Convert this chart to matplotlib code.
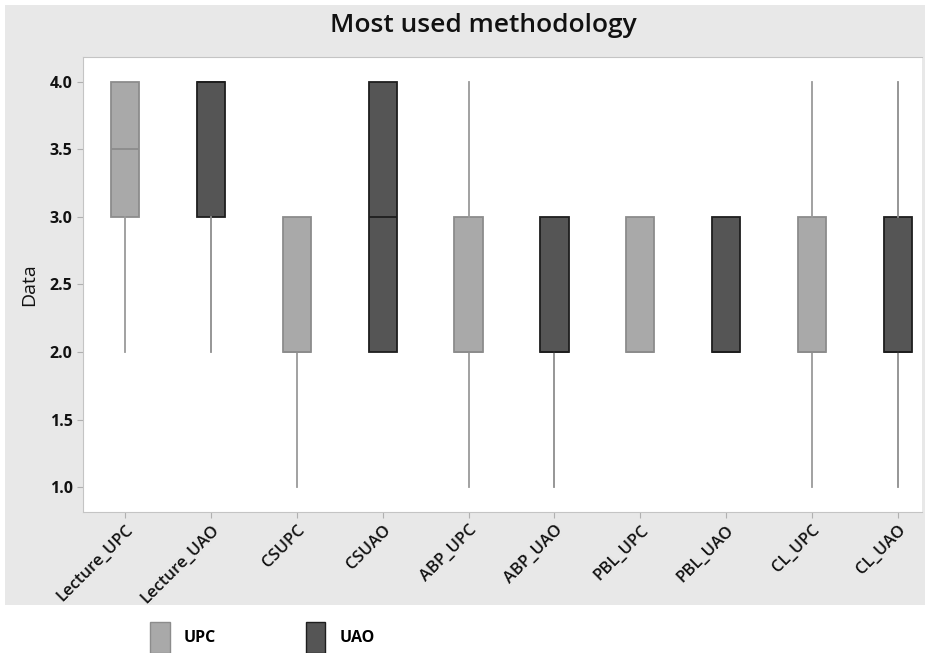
import matplotlib
matplotlib.use("Agg")
import matplotlib.pyplot as plt
from matplotlib.patches import Rectangle, Patch

plt.rcParams['font.family'] = ['Open Sans', 'DejaVu Sans']

# box statistics per methodology / university
labels = ['Lecture_UPC', 'Lecture_UAO', 'CSUPC', 'CSUAO', 'ABP_UPC',
          'ABP_UAO', 'PBL_UPC', 'PBL_UAO', 'CL_UPC', 'CL_UAO']
groups = ['UPC', 'UAO', 'UPC', 'UAO', 'UPC', 'UAO', 'UPC', 'UAO', 'UPC', 'UAO']
q1 = [3.0, 3.0, 2.0, 2.0, 2.0, 2.0, 2.0, 2.0, 2.0, 2.0]
med = [3.5, 4.0, 2.0, 3.0, 2.0, 2.0, 2.0, 2.0, 2.0, 2.0]
q3 = [4.0, 4.0, 3.0, 4.0, 3.0, 3.0, 3.0, 3.0, 3.0, 3.0]
whislo = [2.0, 2.0, 1.0, 2.0, 1.0, 1.0, 2.0, 2.0, 1.0, 1.0]
whishi = [4.0, 4.0, 3.0, 4.0, 4.0, 3.0, 3.0, 3.0, 4.0, 4.0]

fill = {'UPC': '#a9a9a9', 'UAO': '#555555'}
edge = {'UPC': '#8c8c8c', 'UAO': '#1e1e1e'}
whisk = {'UPC': '#9a9a9a', 'UAO': '#8e8e8e'}

fig = plt.figure(figsize=(9.25, 6.53), dpi=100)
fig.patch.set_facecolor('white')
fig.patches.append(Rectangle((5 / 925, 1 - 605 / 653), 1, 600 / 653,
                             transform=fig.transFigure, facecolor='#e8e8e8',
                             edgecolor='none', zorder=-10))

ax = fig.add_axes([83 / 925, 1 - 512 / 653, 839 / 925, 455 / 653])
ax.set_facecolor('white')

for i in range(len(labels)):
    g = groups[i]
    stats = [{'q1': q1[i], 'med': med[i], 'q3': q3[i],
              'whislo': whislo[i], 'whishi': whishi[i], 'fliers': []}]
    ax.bxp(stats, positions=[i + 1], widths=0.33, patch_artist=True,
           showcaps=False,
           boxprops=dict(facecolor=fill[g], edgecolor=edge[g], linewidth=1.3),
           medianprops=dict(color=edge[g], linewidth=1.3),
           whiskerprops=dict(color=whisk[g], linewidth=1.3))

ax.set_xlim(0.51, 10.28)
ax.set_ylim(0.815, 4.185)
ax.set_xticks(range(1, len(labels) + 1))
ax.set_xticklabels(labels, rotation=45, ha='right', rotation_mode='anchor',
                   fontsize=12, fontweight='semibold', color='#111111')
ax.set_yticks([1.0, 1.5, 2.0, 2.5, 3.0, 3.5, 4.0])
ax.set_yticklabels(['%.1f' % v for v in ax.get_yticks()],
                   fontsize=11.5, fontweight='bold', color='#111111')
ax.tick_params(axis='both', colors='#b0b0b0', length=4, labelcolor='#111111')
ax.set_ylabel('Data', fontsize=14, color='#111111', labelpad=8)

for s in ['left', 'bottom', 'top']:
    ax.spines[s].set_color('#c4c4c4')
ax.spines['right'].set_visible(False)

fig.text(0.523, 1 - 26 / 653, 'Most used methodology', ha='center',
         va='center', fontsize=19, fontweight='semibold', color='#111111')

handles = [Patch(facecolor=fill['UPC'], edgecolor=edge['UPC']),
           Patch(facecolor=fill['UAO'], edgecolor=edge['UAO'])]
fig.legend(handles, ['UPC', 'UAO'], loc='lower left',
           bbox_to_anchor=(136 / 925, -0.022), ncol=2, frameon=False,
           handlelength=1.2, handleheight=2.6, columnspacing=5.6,
           handletextpad=0.9, prop=dict(size=11.5, weight='bold'))

plt.savefig('out.png', dpi=100)
plt.close()
